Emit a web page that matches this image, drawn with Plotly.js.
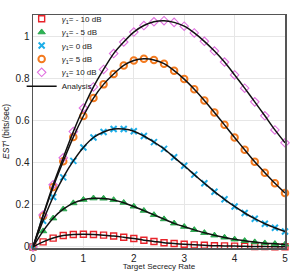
<!DOCTYPE html>
<html>
<head>
<meta charset="utf-8">
<script src="https://cdn.plot.ly/plotly-3.0.1.min.js"></script>
<style>html,body{margin:0;padding:0;background:#fff;}#chart{width:291px;height:271px;}</style>
</head>
<body>
<div id="chart"></div>
<script>
const rates = [0,0.2,0.4,0.6,0.8,1.0,1.2,1.4,1.6,1.8,2.0,2.2,2.4,2.6,2.8,3.0,3.2,3.4,3.6,3.8,4.0,4.2,4.4,4.6,4.8,5.0];
const estM10 = [0,0.024,0.042,0.054,0.059,0.060,0.059,0.056,0.052,0.046,0.040,0.032,0.026,0.020,0.016,0.013,0.010,0.008,0.006,0.005,0.004,0.003,0.002,0.002,0.001,0.001];
const estM5 = [0,0.075,0.136,0.179,0.208,0.224,0.231,0.230,0.223,0.210,0.192,0.172,0.152,0.132,0.112,0.096,0.081,0.067,0.055,0.045,0.036,0.029,0.023,0.018,0.015,0.012];
const est0 = [0,0.124,0.237,0.330,0.408,0.472,0.519,0.545,0.559,0.559,0.549,0.526,0.497,0.465,0.425,0.385,0.343,0.302,0.262,0.226,0.192,0.161,0.134,0.110,0.091,0.073];
const est5 = [0,0.147,0.284,0.406,0.521,0.621,0.706,0.771,0.820,0.861,0.884,0.892,0.887,0.869,0.836,0.796,0.748,0.695,0.638,0.579,0.519,0.461,0.404,0.352,0.302,0.256];
const est10 = [0,0.151,0.295,0.423,0.547,0.659,0.759,0.842,0.917,0.972,1.019,1.050,1.068,1.073,1.065,1.047,1.015,0.975,0.929,0.877,0.816,0.753,0.688,0.622,0.555,0.494];
const seriesNames = ["<i>γ</i><sub>1</sub>= - 10 dB","<i>γ</i><sub>1</sub>= - 5 dB","<i>γ</i><sub>1</sub>= 0 dB","<i>γ</i><sub>1</sub>= 5 dB","<i>γ</i><sub>1</sub>= 10 dB"];
const analysisName = "Analysis";
const xTickVals = [0,1,2,3,4,5];
const yTickVals = [0,0.2,0.4,0.6,0.8,1];
const yTickText = ["0","0.2","0.4","0.6","0.8","1"];

const allY = [estM10, estM5, est0, est5, est10];
const markerStyles = [
  {symbol:'square-open', color:'#e8232a', size:6, line:{width:1.4, color:'#e8232a'}},
  {symbol:'triangle-up', color:'#2bb552', size:6.5, line:{width:0.8, color:'#1a9a40'}},
  {symbol:'x-thin-open', color:'#1eaee8', size:6, line:{width:2, color:'#1eaee8'}},
  {symbol:'circle-open', color:'#f37a1f', size:6.5, line:{width:2, color:'#f37a1f'}},
  {symbol:'diamond-open', color:'#df70df', size:6.5, line:{width:1.1, color:'#df70df'}}
];
const legendIds = ['legend','legend2','legend3','legend4','legend5','legend6'];
const traces = [];
allY.forEach((ys, i) => {
  traces.push({x: rates, y: ys, type:'scatter', mode:'markers', name: seriesNames[i], legend: legendIds[i], marker: markerStyles[i], cliponaxis:false});
});
allY.forEach((ys, i) => {
  traces.push({x: rates, y: ys, type:'scatter', mode:'lines', name: analysisName, legend: legendIds[5], showlegend: i===0,
    line:{color:'#111', width:1.5, shape:'spline', smoothing:0.8}});
});

const plotTop = 4, plotBottom = 248;
const layout = {
  width:291, height:271,
  margin:{l:33, r:6, t:4, b:23},
  paper_bgcolor:'#fff', plot_bgcolor:'#fff',
  font:{family:'Liberation Sans, Arial, sans-serif', size:10, color:'#222'},
  showlegend:true,
  xaxis:{range:[0,5], tickvals:xTickVals, ticks:'', showgrid:true, gridcolor:'#e6e6e6', gridwidth:1,
    zeroline:false, showline:true, mirror:true, linecolor:'#555', linewidth:1.5,
    tickfont:{size:10}, title:{text:'Target Secrecy Rate', font:{size:8}, standoff:3}},
  yaxis:{range:[-0.005,1.1], tickvals:yTickVals, ticktext:yTickText, ticks:'', showgrid:true, gridcolor:'#e6e6e6', gridwidth:1,
    zeroline:false, showline:true, mirror:true, linecolor:'#555', linewidth:1.5,
    tickfont:{size:10}, title:{text:'<i>EST</i><sup>I</sup> (bits/sec)', font:{size:8.5}, standoff:4}}
};
const legendCenters = [8, 22, 36, 50, 64, 78.5];
legendIds.forEach((id, i) => {
  layout[id] = {x:-0.045, xanchor:'left', y:(plotBottom - legendCenters[i])/(plotBottom - plotTop), yanchor:'middle',
    bgcolor:'rgba(255,255,255,0)', borderwidth:0, font:{size:8, color:'#222'}, itemwidth:30};
});
Plotly.newPlot('chart', traces, layout, {displayModeBar:false, staticPlot:true});
</script>
</body>
</html>
